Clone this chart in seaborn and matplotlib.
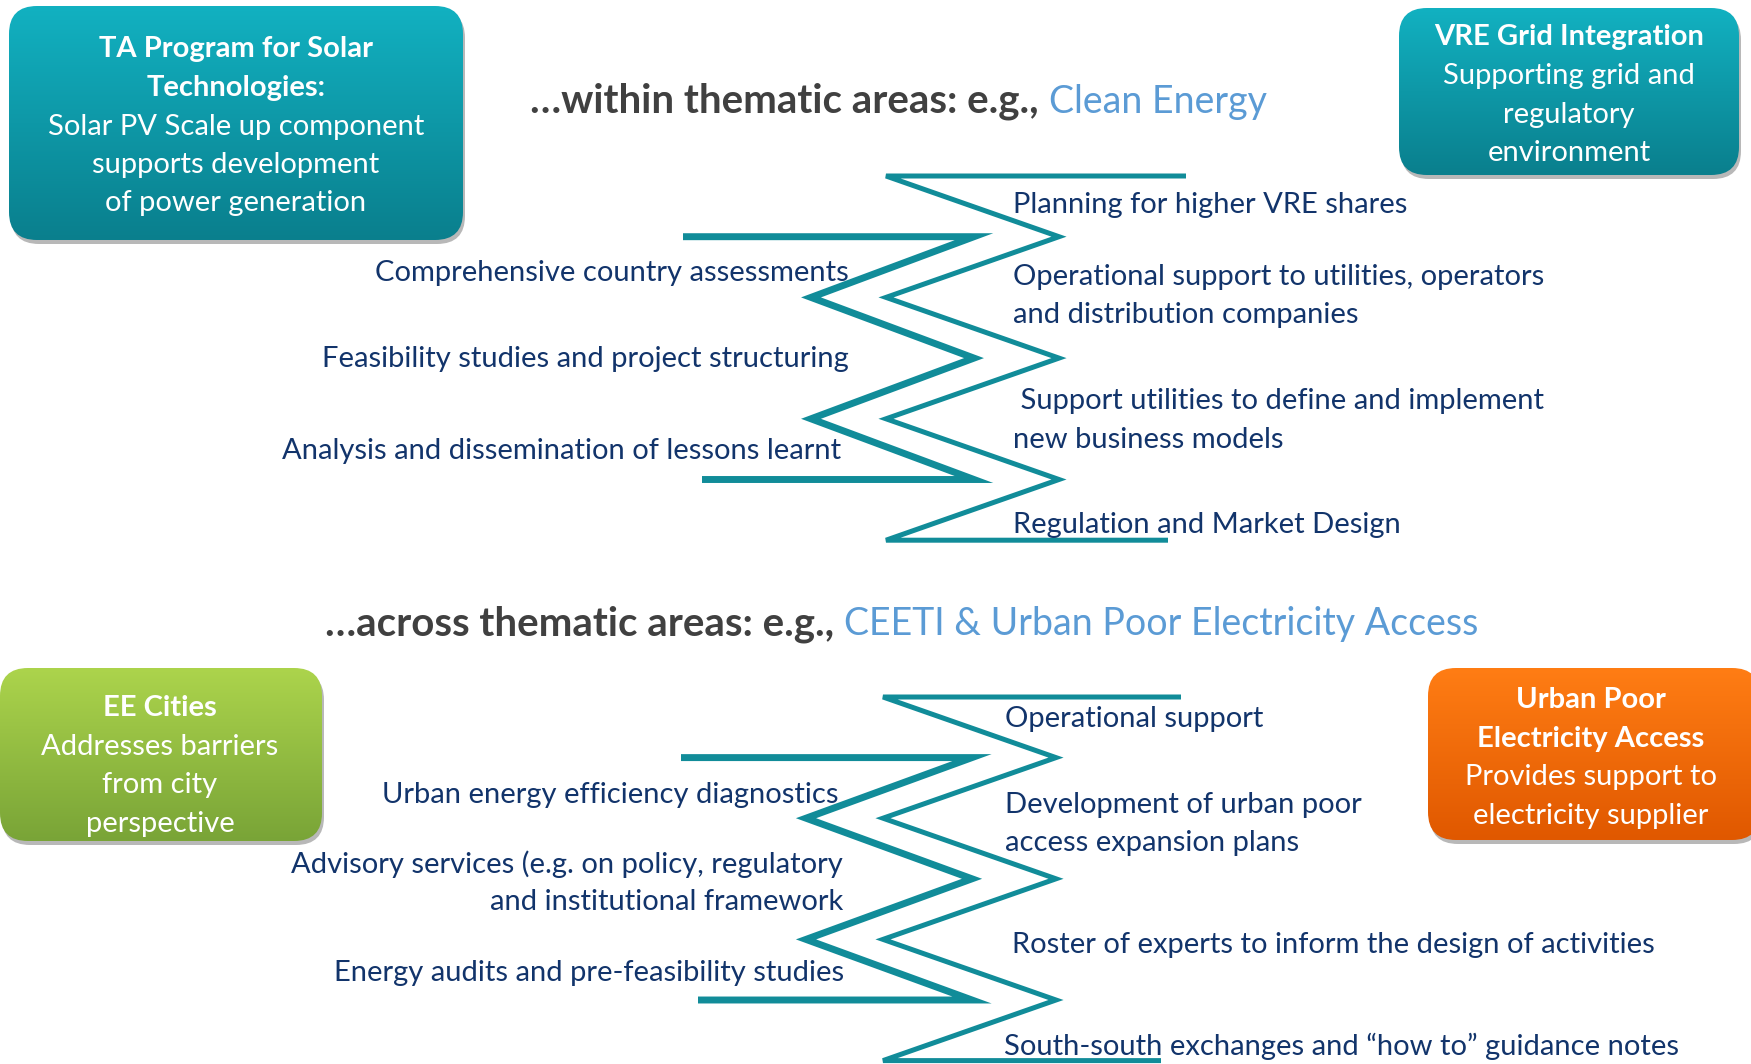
import numpy as np
import matplotlib
matplotlib.use("Agg")
import matplotlib.pyplot as plt
from matplotlib.patches import FancyBboxPatch
from matplotlib.colors import to_rgb
import seaborn as sns

# ---------------- data ----------------
heading_top_bold = "\u2026within thematic areas: e.g.,"
heading_top_topic = "Clean Energy"
heading_bottom_bold = "\u2026across thematic areas: e.g.,"
heading_bottom_topic = "CEETI & Urban Poor Electricity Access"

clean_left_items = [
    "Comprehensive country assessments",
    "Feasibility studies and project structuring",
    "Analysis and dissemination of lessons learnt",
]
clean_right_items = [
    "Planning for higher VRE shares",
    "Operational support to utilities, operators\nand distribution companies",
    " Support utilities to define and implement\nnew business models",
    "Regulation and Market Design",
]
urban_left_items = [
    "Urban energy efficiency diagnostics",
    "Advisory services (e.g. on policy, regulatory\nand institutional framework",
    "Energy audits and pre-feasibility studies",
]
urban_right_items = [
    "Operational support",
    "Development of urban poor\naccess expansion plans",
    "Roster of experts to inform the design of activities",
    "South-south exchanges and \u201chow to\u201d guidance notes",
]

box_solar_title = ["TA Program for Solar", "Technologies:"]
box_solar_body = ["Solar PV Scale up component", "supports development", "of power generation"]
box_vre_title = ["VRE Grid Integration"]
box_vre_body = ["Supporting grid and", "regulatory", "environment"]
box_ee_title = ["EE Cities"]
box_ee_body = ["Addresses barriers", "from city", "perspective"]
box_up_title = ["Urban Poor", "Electricity Access"]
box_up_body = ["Provides support to", "electricity supplier"]

# ---------------- style ----------------
W, H = 1751, 1064
sns.set_theme(style="white")
plt.rcParams["font.family"] = ["Lato", "DejaVu Sans"]

TEXT = "#12346b"
HEAD = "#404040"
TOPIC = "#5b9bd5"
LINE = "#118c99"
BODY_FS = 21
HEAD_BOLD_FS = 29
HEAD_TOPIC_FS = 27
BOX_FS = 21
GAP = 38
DY = 2.5

fig = plt.figure(figsize=(W / 100, H / 100), dpi=100)
ax = fig.add_axes([0, 0, 1, 1])
ax.set_xlim(0, W)
ax.set_ylim(H, 0)
ax.axis("off")


def zigzag(y_top, step, levels, x_even, x_odd, ext_start, ext_end):
    ys = [y_top + k * step for k in levels]
    xs = [x_even if k % 2 == 0 else x_odd for k in levels]
    xs = [ext_start] + xs + [ext_end]
    ys = [ys[0]] + ys + [ys[-1]]
    return xs, ys


def draw_zig(xs, ys, lw):
    sns.lineplot(x=xs, y=ys, sort=False, estimator=None, color=LINE,
                 linewidth=lw, ax=ax, solid_joinstyle="miter",
                 solid_capstyle="butt")


# top section zigzags
xs, ys = zigzag(176, 60.7, range(0, 7), 886, 1059, 1186, 1168)
draw_zig(xs, ys, 3.6)
xs, ys = zigzag(176, 60.7, range(1, 6), 811, 974, 683, 702)
draw_zig(xs, ys, 5.0)
# bottom section zigzags
xs, ys = zigzag(697, 60.6, range(0, 7), 883, 1056, 1181, 1161)
draw_zig(xs, ys, 3.6)
xs, ys = zigzag(697, 60.6, range(1, 6), 806, 972, 681, 698)
draw_zig(xs, ys, 5.0)


def put_item(x, y, text, ha):
    for i, line in enumerate(text.split("\n")):
        ax.text(x, y + DY + i * GAP, line, ha=ha, va="center", color=TEXT,
                fontsize=BODY_FS)


for (x, y), t in zip([(1013, 202), (1013, 274), (1013, 399), (1013, 523)], clean_right_items):
    put_item(x, y, t, "left")
for (x, y), t in zip([(849, 271), (849, 357), (841, 449)], clean_left_items):
    put_item(x, y, t, "right")
for (x, y), t in zip([(1005, 716), (1005, 802), (1012, 942), (1004, 1044)], urban_right_items):
    put_item(x, y, t, "left")
for (x, y), t in zip([(838, 792), (843, 862), (844, 971)], urban_left_items):
    put_item(x, y, t, "right")


# headings
def heading(x, y, bold, topic):
    t = ax.text(x, y, bold, ha="left", va="center", color=HEAD,
                fontsize=HEAD_BOLD_FS, fontweight="bold")
    fig.canvas.draw()
    bb = t.get_window_extent(renderer=fig.canvas.get_renderer())
    xend = ax.transData.inverted().transform((bb.x1, bb.y0))[0]
    ax.text(xend + HEAD_TOPIC_FS * 1.389 * 0.27, y, topic, ha="left", va="center",
            color=TOPIC, fontsize=HEAD_TOPIC_FS)


heading(530, 101.5, heading_top_bold, heading_top_topic)
heading(325, 624.5, heading_bottom_bold, heading_bottom_topic)


# boxes
def box(x0, y0, x1, y1, c_top, c_bot, title, body, y_first, cx):
    sh = FancyBboxPatch((x0 + 2, y0 + 4), x1 - x0, y1 - y0,
                        boxstyle="round,pad=0,rounding_size=28",
                        facecolor="#000000", edgecolor="none", alpha=0.28, zorder=2)
    ax.add_patch(sh)
    p = FancyBboxPatch((x0, y0), x1 - x0, y1 - y0,
                       boxstyle="round,pad=0,rounding_size=28",
                       facecolor="none", edgecolor="none", zorder=3)
    ax.add_patch(p)
    a, b = np.array(to_rgb(c_top)), np.array(to_rgb(c_bot))
    t = np.linspace(0, 1, 256)[:, None, None]
    grad = a[None, None, :] * (1 - t) + b[None, None, :] * t
    im = ax.imshow(grad, extent=(x0, x1, y1, y0), origin="upper",
                   aspect="auto", zorder=3, interpolation="bilinear")
    im.set_clip_path(p)
    lines = [(s, "bold") for s in title] + [(s, "normal") for s in body]
    for i, (s, w) in enumerate(lines):
        ax.text(cx, y_first + DY + i * 38.5, s, ha="center", va="center",
                color="white", fontsize=BOX_FS, fontweight=w, zorder=4)


box(9, 6, 463, 240, "#12b1c1", "#0a7f8d", box_solar_title, box_solar_body, 47, 236)
box(1399, 8, 1739, 175, "#12b1c1", "#0a7f8d", box_vre_title, box_vre_body, 35, 1569)
box(0, 668, 322, 841, "#acd44c", "#79a437", box_ee_title, box_ee_body, 706, 160)
box(1428, 668, 1760, 840, "#ff7d14", "#e05800", box_up_title, box_up_body, 698, 1591)

ax.set_xlim(0, W)
ax.set_ylim(H, 0)
fig.savefig("out.png", dpi=100, facecolor="white")
